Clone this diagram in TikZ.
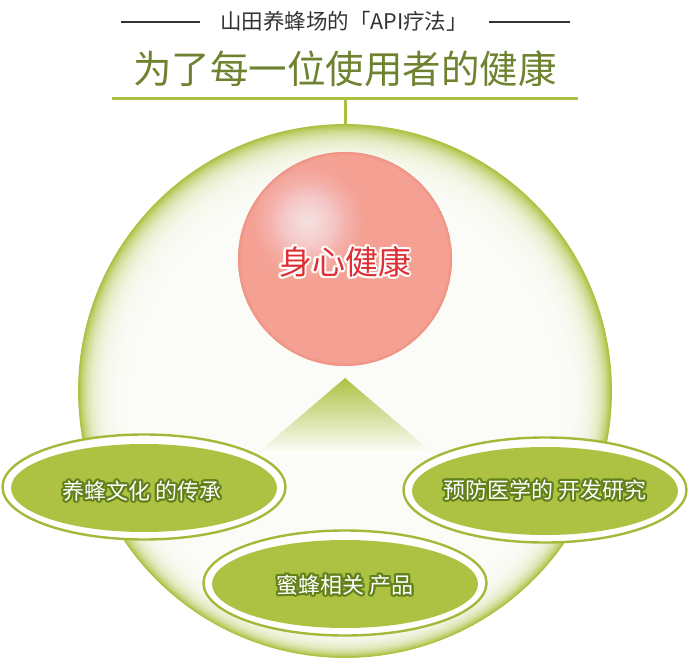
\documentclass[tikz,border=0pt]{standalone}
\usepackage{fontspec}
\newfontfamily\cjk{Noto Sans CJK SC}
\usetikzlibrary{shapes.geometric,calc}
\definecolor{gcol}{HTML}{ADC243}
\definecolor{gring}{HTML}{A2BA3A}
\definecolor{gline}{HTML}{ABC03F}
\definecolor{titlecol}{HTML}{6E8230}
\definecolor{glowg}{HTML}{62801A}
\definecolor{redtxt}{HTML}{DE3034}
\definecolor{subcol}{HTML}{333333}
\definecolor{bgw}{HTML}{FBFCF8}
\definecolor{pkhi}{HTML}{FFF6F5}
\definecolor{pkmid}{HTML}{F4A193}
\definecolor{pkedge}{HTML}{EE8A7A}
\tikzset{
  ringout/.style={ellipse, draw=gring, line width=2.4pt, fill=white, minimum width=283, minimum height=105, inner sep=0},
  ringin/.style={ellipse, fill=gcol, minimum width=266, minimum height=88, inner sep=0},
  lab/.style={font=\cjk\fontsize{22}{22}\selectfont, text=white, inner sep=0},
  ballab/.style={font=\cjk\fontsize{33}{33}\selectfont, text=redtxt, inner sep=0},
  titlelab/.style={font=\cjk\fontsize{38.5}{38.5}\selectfont, text=titlecol, inner sep=0},
  sublab/.style={font=\cjk\fontsize{21.5}{21.5}\selectfont, text=subcol, inner sep=0},
  subrule/.style={draw=subcol, line width=1.6pt},
  greenrule/.style={draw=gline, line width=3pt},
}
\newcommand\glowlabel[6]{%
  \foreach \ang in {0,20,...,340}{\node[#3, text=#4, opacity=#5] at ([shift={(\ang:2.1)}]#2) {#6};}
  \foreach \ang in {15,75,...,315}{\node[#3, text=#4] at ([shift={(\ang:1.1)}]#2) {#6};}
  \node[#3] (#1) at (#2) {#6};}
\begin{document}
\begin{tikzpicture}[x=1pt,y=-1pt]
\useasboundingbox (0,0) rectangle (690,668);
% header
\node[sublab] (sub) at (344,21) {山田养蜂场的「API疗法」};
\coordinate (sl1) at (121,22); \coordinate (sl2) at (200,22);
\coordinate (sr1) at (489,22); \coordinate (sr2) at (570,22);
\draw[subrule] (sl1) -- (sl2);
\draw[subrule] (sr1) -- (sr2);
\node[titlelab] (title) at (345,69) {为了每一位使用者的健康};
\coordinate (gl) at (112,99); \coordinate (gr) at (578,99);
\coordinate (stem) at (345,99);
% big circle
\node[circle, minimum size=533, inner sep=0] (big) at (345,391) {};
\foreach \i in {0,...,64}{
  \pgfmathsetmacro\p{100*exp(-\i/10)}
  \pgfmathsetmacro\r{266.5-\i}
  \pgfmathsetmacro\dy{0.25*\i}
  \fill[gcol!\p!bgw] ([yshift=-\dy pt]big.center) circle[radius=\r];
}
\draw[gcol, line width=0.8pt] (big.center) circle[radius=266.5];
\draw[greenrule] (gl) -- (gr);
\draw[greenrule] (stem) -- (big.north);
% triangle
\coordinate (tA) at (345,378); \coordinate (tB) at (255,455); \coordinate (tC) at (435,455);
\shade[top color=gcol, middle color=gcol!45!white, bottom color=white] (tA) -- (tB) -- (tC) -- cycle;
% pink sphere
\node[circle, minimum size=214, inner sep=0] (ball) at (345,259) {};
\coordinate (hl) at (308,222);
\begin{scope}
  \clip (ball.center) circle[radius=107];
  \fill[pkmid] (ball.center) circle[radius=107];
  \foreach \r in {66,65,...,1}{
    \pgfmathsetmacro\op{0.003+0.062*(1-\r/66)}
    \fill[pkhi, opacity=\op] (hl) circle[radius=\r];}
\end{scope}
\draw[pkedge, line width=3pt, opacity=0.25] (ball.center) circle[radius=105.5];
\draw[pkedge, line width=1.2pt, opacity=0.5] (ball.center) circle[radius=106.4];
\glowlabel{balltxt}{345,262}{ballab}{white}{0.75}{身心健康}
% left ellipse
\node[ringout] (outA) at (144,487) {};
\node[ringin] (inA) at (144,488) {};
\glowlabel{labA}{142,491}{lab}{glowg}{0.8}{养蜂文化 的传承}
% right ellipse
\node[ringout] (outB) at (545,490) {};
\node[ringin] (inB) at (545,491) {};
\glowlabel{labB}{545,490}{lab}{glowg}{0.8}{预防医学的 开发研究}
% bottom ellipse
\node[ringout] (outC) at (345,583) {};
\node[ringin] (inC) at (345,584) {};
\glowlabel{labC}{345,585}{lab}{glowg}{0.8}{蜜蜂相关 产品}
\end{tikzpicture}
\end{document}
